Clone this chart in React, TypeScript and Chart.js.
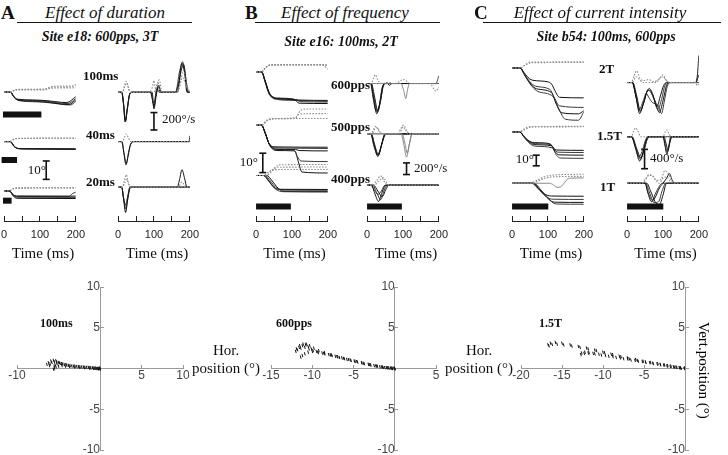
import React, { useEffect, useRef } from "react";
import { Chart, registerables } from "chart.js";
Chart.register(...registerables);

type Pt = [number, number];
type Tr = Pt[];

// ---------------- DATA ----------------
const TIME_MIN = 0;
const TIME_MAX = 200;
const TIME_STEP = 50;
const TIME_LABELS = [0, 100, 200];

// Panel A – position (deg)
const A_POS_100_SOLID: Tr[] = [
  [[0,0],[18,0],[28,-2.5],[38,-3.8],[80,-4.2],[120,-4.6],[160,-5.5],[175,-5.6],[200,-2.4]],
  [[0,0],[18,0],[28,-2.7],[38,-4.0],[80,-4.5],[120,-5.0],[160,-6.0],[178,-6.2],[200,-3.4]],
  [[0,0],[17,0],[28,-2.8],[40,-4.3],[80,-4.8],[120,-5.4],[165,-6.5],[180,-6.7],[200,-4.2]],
  [[0,0],[18,0],[30,-3.2],[42,-4.6],[90,-5.2],[130,-5.8],[170,-6.8],[185,-6.9],[200,-5.0]],
];
const A_POS_100_DOT: Tr[] = [
  [[0,0],[15,0],[30,1.2],[40,1.5],[110,1.5],[125,2.6],[130,2.8],[185,3.0],[200,4.3]],
  [[0,0],[15,0],[30,1.0],[40,1.3],[115,1.3],[130,2.2],[200,2.4]],
  [[0,0],[16,0],[30,1.3],[45,1.6],[120,1.8],[135,3.2],[200,3.4]],
];
const A_POS_40_SOLID: Tr[] = [
  [[0,0],[17,0],[27,-2.5],[38,-3.7],[60,-3.9],[200,-4.1]],
  [[0,0],[18,0],[28,-2.6],[40,-3.9],[70,-4.1],[200,-4.3]],
  [[0,0],[18,0],[30,-2.8],[42,-3.8],[200,-3.9]],
];
const A_POS_40_DOT: Tr[] = [
  [[0,0],[15,0],[28,1.3],[38,1.7],[200,1.8]],
  [[0,0],[15,0],[30,1.4],[40,1.8],[200,1.9]],
];
const A_POS_20_SOLID: Tr[] = [
  [[0,0],[15,0],[25,-2.0],[35,-2.7],[200,-2.8]],
  [[0,0],[15,0],[25,-2.5],[35,-3.4],[200,-3.5]],
  [[0,0],[16,0],[27,-3.0],[37,-4.0],[200,-4.1]],
  [[0,0],[15,0],[25,-2.3],[35,-3.0],[180,-3.1],[190,-1.5],[200,-0.6]],
];
const A_POS_20_DOT: Tr[] = [
  [[0,0],[14,0],[25,1.3],[35,1.8],[200,1.9]],
  [[0,0],[14,0],[25,1.0],[35,1.4],[200,1.5]],
];

// Panel A – velocity (deg/s)
const A_VEL_100_SOLID: Tr[] = [
  [[0,0],[10,0],[15,-150],[20,-400],[25,-250],[32,-30],[40,0],[90,0],[95,-80],[100,-200],[105,-50],[112,80],[118,0],[160,0],[170,150],[178,400],[186,250],[192,0],[200,0]],
  [[0,0],[11,0],[16,-180],[21,-390],[26,-220],[33,-20],[40,0],[92,0],[98,-150],[102,-120],[108,60],[114,0],[160,0],[172,300],[180,420],[188,200],[195,0],[200,0]],
  [[0,0],[10,0],[15,-160],[20,-410],[26,-230],[33,-20],[40,0],[95,0],[100,-230],[106,-60],[113,100],[120,0],[165,0],[175,280],[183,380],[190,150],[196,0],[200,0]],
];
const A_VEL_100_DOT: Tr[] = [
  [[0,0],[12,0],[18,90],[23,150],[28,60],[35,0],[85,0],[95,60],[100,160],[105,40],[112,130],[118,0],[160,0],[172,100],[182,300],[190,120],[200,0]],
  [[0,0],[13,0],[20,100],[25,120],[32,20],[38,0],[100,0],[108,100],[115,170],[122,0],[165,0],[180,200],[190,80],[200,0]],
];
const A_VEL_40_SOLID: Tr[] = [
  [[0,0],[10,0],[16,-150],[22,-320],[28,-200],[35,-40],[45,0],[198,0],[200,80]],
  [[0,0],[11,0],[17,-170],[23,-300],[29,-150],[36,-20],[45,0],[200,0]],
];
const A_VEL_40_DOT: Tr[] = [
  [[0,0],[12,0],[18,60],[23,105],[29,50],[36,0],[200,0]],
];
const A_VEL_20_SOLID: Tr[] = [
  [[0,0],[10,0],[15,-150],[21,-350],[26,-200],[32,-30],[38,0],[200,0]],
  [[0,0],[10,0],[16,-180],[22,-300],[28,-120],[35,0],[200,0]],
  [[0,0],[10,0],[15,-130],[20,-250],[26,-150],[33,0],[165,0],[172,120],[178,240],[185,130],[192,0],[200,0]],
];
const A_VEL_20_DOT: Tr[] = [
  [[0,0],[12,0],[18,100],[23,170],[29,60],[35,0],[200,0]],
  [[0,0],[12,0],[19,60],[24,110],[30,30],[36,0],[168,0],[178,70],[188,0],[200,0]],
];

// Panel B – position (deg)
const B_POS_600_SOLID: Tr[] = [
  [[0,0],[15,0],[25,-5],[35,-11],[45,-13.8],[60,-14.5],[110,-15],[120,-15.3],[200,-15.5]],
  [[0,0],[15,0],[25,-5.5],[35,-11.5],[45,-14],[60,-14.8],[110,-15.2],[125,-16.2],[200,-16.4]],
  [[0,0],[15,0],[26,-5],[36,-11],[47,-13.6],[60,-14.2],[105,-14.8],[120,-17],[200,-17.2]],
  [[0,0],[16,0],[26,-5.5],[37,-11.8],[48,-14.2],[60,-15],[100,-15.5],[200,-16]],
];
const B_POS_600_DOT: Tr[] = [
  [[0,0],[15,0],[25,2],[35,3.5],[45,4],[190,4],[200,3.2]],
  [[0,0],[16,0],[28,2.5],[40,3.8],[200,3.8]],
  [[0,0],[15,0],[26,2.2],[38,3.6],[185,3.8],[200,1.5]],
];
const B_POS_500_SOLID: Tr[] = [
  [[0,0],[15,0],[25,-4],[35,-9.5],[50,-11.8],[200,-12]],
  [[0,0],[15,0],[25,-4.2],[36,-10],[52,-12.3],[100,-12.5],[200,-12.7]],
  [[0,0],[15,0],[26,-4.5],[37,-10.5],[55,-13],[110,-13.2],[120,-13.8],[200,-14]],
  [[0,0],[15,0],[25,-4],[36,-10],[55,-13.2],[105,-13.5],[115,-17],[125,-19.5],[200,-19.8]],
  [[0,0],[15,0],[26,-4.5],[38,-11],[58,-13.8],[108,-14],[118,-20],[128,-25.5],[200,-26]],
];
const B_POS_500_DOT: Tr[] = [
  [[0,0],[15,0],[30,2.5],[50,3.5],[200,3.6]],
  [[0,0],[16,0],[32,2.5],[55,3.5],[108,3.8],[120,6],[130,6.2],[200,6.3]],
  [[0,0],[15,0],[30,2.8],[55,3.6],[110,4],[122,7.5],[135,8.7],[200,8.8]],
];
const B_POS_400_SOLID: Tr[] = [
  [[0,0],[20,0],[35,-3],[50,-6.5],[65,-7.5],[200,-7.6]],
  [[0,0],[25,0],[40,-3],[55,-6.5],[70,-7.8],[200,-8]],
  [[0,0],[30,0],[45,-3],[62,-7],[78,-8.5],[200,-8.6]],
  [[0,0],[22,0],[38,-3.5],[55,-7.5],[75,-8.8],[200,-9]],
];
const B_POS_400_DOT: Tr[] = [
  [[0,0],[22,0],[35,2],[50,3.2],[200,3.3]],
  [[0,0],[28,0],[45,3],[65,5.8],[200,6]],
  [[0,0],[30,0],[45,2.5],[60,4.5],[200,4.6]],
];

// Panel B – velocity (deg/s)
const B_VEL_600_SOLID: Tr[] = [
  [[0,0],[10,0],[18,-250],[27,-520],[35,-350],[43,-60],[50,0],[200,0]],
  [[0,0],[11,0],[19,-230],[29,-490],[37,-320],[45,-50],[52,0],[200,0]],
  [[0,0],[12,0],[20,-200],[30,-470],[38,-280],[46,-20],[52,0],[55,15],[62,-30],[70,0],[200,0]],
  [[0,0],[10,0],[17,-260],[26,-480],[34,-380],[42,-80],[50,0],[192,0],[200,130]],
];
const B_VEL_600_GRAY: Tr[] = [
  [[0,0],[95,0],[102,-120],[108,-260],[113,-100],[118,0],[200,0]],
];
const B_VEL_600_DOT: Tr[] = [
  [[0,0],[12,0],[18,100],[23,150],[30,60],[40,0],[60,20],[75,0],[90,30],[100,70],[110,40],[120,0],[175,0],[186,-90],[192,-130],[200,-60]],
];
const B_VEL_500_SOLID: Tr[] = [
  [[0,0],[10,0],[20,-200],[30,-390],[40,-200],[48,-30],[55,0],[200,0]],
  [[0,0],[11,0],[21,-180],[31,-370],[41,-180],[50,-20],[56,0],[200,0]],
  [[0,0],[12,0],[22,-220],[32,-350],[42,-150],[50,0],[200,0]],
  [[0,0],[10,0],[19,-210],[29,-360],[39,-220],[47,-40],[55,0],[200,0]],
];
const B_VEL_500_GRAY: Tr[] = [
  [[0,0],[95,0],[103,-200],[110,-400],[117,-200],[125,0],[200,0]],
  [[0,0],[98,0],[106,-180],[112,-330],[119,-150],[126,0],[200,0]],
];
const B_VEL_500_DOT: Tr[] = [
  [[0,0],[12,0],[18,80],[24,130],[32,60],[42,0],[85,0],[95,100],[102,150],[110,60],[118,0],[200,0]],
  [[0,0],[14,0],[22,90],[28,110],[36,30],[45,0],[90,0],[100,120],[106,80],[114,0],[200,0]],
];
const B_VEL_400_SOLID: Tr[] = [
  [[0,0],[12,0],[22,-150],[32,-280],[42,-120],[52,0],[200,0]],
  [[0,0],[15,0],[27,-130],[38,-250],[47,-100],[56,0],[200,0]],
  [[0,0],[18,0],[30,-100],[42,-200],[52,-80],[60,0],[200,0]],
  [[0,0],[10,0],[20,-80],[30,-160],[40,-100],[50,0],[200,0]],
];
const B_VEL_400_DOT: Tr[] = [
  [[0,0],[15,0],[28,90],[38,160],[48,60],[58,0],[200,0]],
  [[0,0],[20,0],[32,70],[45,130],[55,40],[62,0],[200,0]],
];

// Panel C – position (deg)
const C_POS_2T_SOLID: Tr[] = [
  [[0,0],[22,0],[35,-5],[48,-10],[58,-11.5],[100,-13],[110,-15],[122,-23],[132,-27.5],[200,-28]],
  [[0,0],[22,0],[35,-6],[50,-13],[65,-17],[105,-20],[118,-28],[132,-35.5],[200,-37]],
  [[0,0],[22,0],[36,-7],[52,-15],[68,-19.5],[110,-23],[122,-33],[138,-42],[185,-43],[200,-40]],
  [[0,0],[22,0],[37,-8],[55,-17],[72,-22],[115,-27],[130,-38],[148,-48],[185,-49],[200,-41]],
];
const C_POS_2T_DOT: Tr[] = [
  [[0,0],[22,0],[35,2.5],[50,5.5],[200,5.8]],
  [[0,0],[22,0],[38,3],[55,5],[200,5.2]],
];
const C_POS_15T_SOLID: Tr[] = [
  [[0,0],[20,0],[35,-5],[50,-9],[62,-10],[105,-11],[115,-15],[125,-17],[200,-17.3]],
  [[0,0],[20,0],[36,-5.5],[52,-10],[65,-11],[108,-12],[118,-16.5],[128,-19],[200,-19.3]],
  [[0,0],[21,0],[37,-6],[54,-11],[67,-12],[110,-13],[120,-18.5],[130,-21.5],[200,-21.8]],
  [[0,0],[22,0],[38,-7],[56,-12.5],[70,-13.5],[112,-15],[124,-22],[135,-24.5],[200,-24.8]],
];
const C_POS_15T_DOT: Tr[] = [
  [[0,0],[20,0],[35,3],[50,5],[200,5.2]],
  [[0,0],[22,0],[38,2.5],[55,4.6],[200,4.8]],
];
const C_POS_1T_SOLID: Tr[] = [
  [[0,0],[55,0],[70,-4],[85,-9],[100,-11.5],[110,-12],[200,-12.2]],
  [[0,0],[58,0],[73,-5],[90,-11],[105,-14.5],[115,-15],[200,-15.2]],
  [[0,0],[60,0],[76,-5.5],[93,-12],[110,-17],[120,-17.8],[200,-18]],
  [[0,0],[62,0],[80,-6],[98,-13],[115,-18.5],[125,-19.5],[200,-19.7]],
];
const C_POS_1T_GRAY: Tr[] = [
  [[0,0],[105,0],[115,-1.5],[125,-3.8],[135,-3.5],[145,0],[155,4],[165,4.8],[200,5]],
];
const C_POS_1T_DOT: Tr[] = [
  [[0,0],[50,0],[70,3],[90,6],[110,7.5],[200,8.5]],
  [[0,0],[55,0],[75,2.5],[95,5],[115,6],[200,6.5]],
];

// Panel C – velocity (deg/s)
const C_VEL_2T_SOLID: Tr[] = [
  [[0,0],[15,0],[25,-300],[35,-640],[45,-450],[55,-200],[62,-120],[72,-250],[83,-500],[92,-300],[102,-60],[110,0],[190,0],[196,150],[200,560]],
  [[0,0],[15,0],[26,-320],[36,-600],[46,-420],[56,-180],[64,-160],[75,-350],[86,-560],[96,-350],[106,-50],[114,0],[200,0]],
  [[0,0],[16,0],[27,-280],[37,-580],[48,-380],[58,-150],[66,-200],[78,-380],[90,-620],[100,-380],[110,-60],[118,0],[192,0],[200,160]],
  [[0,0],[14,0],[24,-260],[34,-560],[44,-400],[54,-220],[60,-300],[72,-420],[85,-460],[96,-640],[104,-380],[112,-80],[120,0],[200,0]],
];
const C_VEL_2T_DOT: Tr[] = [
  [[0,0],[12,0],[20,150],[27,240],[35,100],[45,40],[60,60],[75,20],[90,80],[100,160],[108,60],[118,0],[190,0],[196,-60],[200,-30]],
  [[0,0],[15,0],[25,120],[32,80],[45,0],[80,0],[92,90],[100,120],[110,40],[120,0],[200,0]],
];
const C_VEL_15T_SOLID: Tr[] = [
  [[0,0],[12,0],[24,-250],[35,-500],[44,-330],[52,-100],[58,0],[100,0],[106,-200],[111,-360],[116,-200],[122,0],[200,0]],
  [[0,0],[13,0],[25,-230],[37,-470],[46,-300],[54,-80],[60,0],[101,0],[107,-180],[112,-320],[118,-150],[124,0],[200,0]],
  [[0,0],[14,0],[27,-250],[39,-440],[48,-260],[56,-60],[62,0],[103,0],[109,-150],[114,-280],[120,-100],[126,0],[200,0]],
  [[0,0],[12,0],[23,-200],[33,-420],[42,-300],[50,-100],[57,0],[200,0]],
];
const C_VEL_15T_DOT: Tr[] = [
  [[0,0],[12,0],[18,120],[24,180],[30,120],[38,0],[100,0],[106,100],[111,140],[117,60],[124,0],[200,0]],
];
const C_VEL_1T_SOLID: Tr[] = [
  [[0,0],[50,0],[58,-200],[68,-380],[78,-300],[90,-100],[100,0],[110,100],[118,200],[126,60],[132,0],[200,0]],
  [[0,0],[52,0],[62,-180],[75,-400],[88,-380],[98,-150],[108,0],[200,0]],
  [[0,0],[55,0],[65,-150],[78,-380],[90,-440],[100,-250],[110,0],[200,0]],
  [[0,0],[50,0],[60,-220],[70,-350],[80,-200],[90,-60],[98,0],[200,0]],
];
const C_VEL_1T_DOT: Tr[] = [
  [[0,0],[40,0],[52,100],[62,180],[72,140],[82,60],[95,80],[105,260],[115,200],[125,40],[135,0],[200,0]],
  [[0,0],[45,0],[58,150],[70,160],[80,60],[90,0],[100,100],[110,130],[120,50],[130,0],[200,0]],
];

// Stimulus durations (ms) per condition
const A_STIM: [number, number][] = [[-3, 104], [-7, 36], [-3, 21]];
const B_STIM: [number, number] = [0, 97];
const C_STIM: [number, number] = [0, 101];

// Bottom: 2-D trajectories (hor, vert position in deg)
const A_XY: Tr[] = [
  [[0,0],[-0.2,0.02],[-0.5,0.05],[-0.9,0.1],[-1.4,0.15],[-2,0.2],[-2.6,0.25],[-3.2,0.3],[-3.8,0.4],[-4.3,0.5],[-4.8,0.65],[-5.2,0.8],[-5.5,0.85],[-5.8,0.75],[-6.0,0.55],[-6.1,0.35]],
  [[0,-0.05],[-0.3,0],[-0.7,0.05],[-1.2,0.1],[-1.8,0.15],[-2.4,0.2],[-3,0.3],[-3.6,0.35],[-4.1,0.45],[-4.6,0.6],[-5,0.75],[-5.3,0.95],[-5.6,1.0],[-5.9,0.9],[-6.2,0.7],[-6.4,0.5]],
  [[-0.1,0],[-0.4,-0.02],[-0.8,0],[-1.3,0.05],[-1.9,0.1],[-2.5,0.15],[-3.1,0.2],[-3.7,0.25],[-4.2,0.3],[-4.6,0.35],[-5,0.3],[-5.3,0.2],[-5.5,0.05],[-5.6,-0.1]],
  [[0,0.05],[-0.2,-0.05],[-0.6,0.02],[-1.1,0.08],[-1.6,0.12],[-2.2,0.18],[-2.8,0.22],[-3.4,0.3],[-4,0.42],[-4.5,0.55],[-4.9,0.7],[-5.2,0.6],[-5.4,0.45],[-5.5,0.3]],
];
const B_XY: Tr[] = [
  [[0,0],[-0.3,0],[-0.7,0.05],[-1.2,0.1],[-1.8,0.2],[-2.5,0.35],[-3.2,0.5],[-4,0.7],[-4.8,0.9],[-5.6,1.1],[-6.4,1.3],[-7.2,1.5],[-8,1.7],[-8.8,1.9],[-9.5,2.1],[-10.1,2.4],[-10.5,2.7],[-10.8,2.9],[-11.2,2.8],[-11.6,2.6],[-11.9,2.4]],
  [[0,0.05],[-0.4,0.03],[-0.9,0.1],[-1.5,0.2],[-2.2,0.3],[-3,0.45],[-3.8,0.65],[-4.6,0.85],[-5.4,1.05],[-6.2,1.25],[-7,1.45],[-7.8,1.65],[-8.6,1.85],[-9.3,2.0],[-9.9,2.2],[-10.4,2.4],[-10.9,2.6],[-11.4,2.5],[-11.8,2.3],[-12,2.1]],
  [[-0.1,0],[-0.5,0.05],[-1,0.1],[-1.6,0.2],[-2.3,0.3],[-3.1,0.5],[-4,0.7],[-4.9,0.9],[-5.8,1.1],[-6.7,1.35],[-7.6,1.6],[-8.5,1.8],[-9.3,1.95],[-10,2.1],[-10.5,2.0],[-10.9,1.8],[-11.2,1.6],[-11.4,1.4]],
  [[0,-0.05],[-0.3,0.05],[-0.8,0.1],[-1.4,0.15],[-2.1,0.3],[-2.9,0.45],[-3.7,0.6],[-4.5,0.8],[-5.3,1.0],[-6.1,1.2],[-6.9,1.45],[-7.7,1.7],[-8.5,1.95],[-9.2,2.2],[-9.8,2.5],[-10.3,2.8],[-10.7,3.0],[-11.1,3.0],[-11.5,2.8]],
];
const C_XY: Tr[] = [
  [[0,0],[-0.5,0.05],[-1,0.15],[-1.7,0.3],[-2.5,0.45],[-3.3,0.6],[-4.2,0.75],[-5.1,0.9],[-6,1.1],[-7,1.3],[-8,1.5],[-9,1.75],[-10,2.0],[-11,2.25],[-12,2.5],[-13,2.7],[-14,2.9],[-15,3.1],[-15.8,3.2],[-16.4,3.1],[-16.7,2.9]],
  [[0,0.05],[-0.6,0.1],[-1.3,0.2],[-2.1,0.35],[-3,0.5],[-3.9,0.65],[-4.8,0.8],[-5.8,1.0],[-6.8,1.2],[-7.8,1.45],[-8.8,1.7],[-9.8,1.95],[-10.8,2.2],[-11.8,2.4],[-12.8,2.6],[-13.8,2.75],[-14.8,2.9],[-15.6,3.0],[-16.2,2.95],[-16.6,2.8]],
  [[0,0],[-0.5,0.05],[-1.1,0.15],[-1.8,0.25],[-2.6,0.4],[-3.4,0.55],[-4.3,0.7],[-5.2,0.85],[-6.1,1.0],[-7,1.15],[-7.9,1.3],[-8.8,1.45],[-9.7,1.6],[-10.5,1.75],[-11.2,1.85],[-11.8,1.9],[-12.3,1.85],[-12.7,1.7]],
  [[-0.1,0],[-0.7,0.1],[-1.4,0.2],[-2.2,0.3],[-3,0.45],[-3.9,0.6],[-4.8,0.75],[-5.7,0.9],[-6.6,1.05],[-7.5,1.2],[-8.4,1.35],[-9.3,1.5],[-10.2,1.65],[-11,1.8],[-11.7,1.95],[-12.2,2.0],[-12.6,1.9]],
];
const XY_Y_TICKS = [-10, -5, 5, 10];
const A_X_LABELS = [-10, 5, 10];
const B_X_LABELS = [-15, -10, -5, 5];
const C_X_LABELS = [-20, -15, -10, -5];

// ---------------- LAYOUT ----------------
const SERIF = '"Liberation Serif", "Times New Roman", serif';
const SANS = '"Liberation Sans", Arial, sans-serif';
const AXIS_Y = 221;
const TOP_Y = 45;
const PADX = 14;
const AXIS_H = 30;
const AX_W = 80;

interface Cond { base: number; solid: Tr[]; dotted: Tr[]; gray?: Tr[] }
interface TraceSpec {
  x0: number; k: number; conds: Cond[];
  bars: { t0: number; t1: number; y: number }[];
  sbar: { x: number; y0: number; y1: number };
}

const SPECS: TraceSpec[] = [
  { x0: 3, k: 1.9, conds: [
      { base: 88, solid: A_POS_100_SOLID, dotted: A_POS_100_DOT },
      { base: 139, solid: A_POS_40_SOLID, dotted: A_POS_40_DOT },
      { base: 190, solid: A_POS_20_SOLID, dotted: A_POS_20_DOT } ],
    bars: [{ t0: A_STIM[0][0], t1: A_STIM[0][1], y: 111 }, { t0: A_STIM[1][0], t1: A_STIM[1][1], y: 158 }, { t0: A_STIM[2][0], t1: A_STIM[2][1], y: 200 }],
    sbar: { x: 50, y0: 159, y1: 178 } },
  { x0: 117, k: 0.075, conds: [
      { base: 88, solid: A_VEL_100_SOLID, dotted: A_VEL_100_DOT },
      { base: 139, solid: A_VEL_40_SOLID, dotted: A_VEL_40_DOT },
      { base: 186, solid: A_VEL_20_SOLID, dotted: A_VEL_20_DOT } ],
    bars: [], sbar: { x: 157, y0: 109, y1: 127 } },
  { x0: 254.5, k: 1.9, conds: [
      { base: 67, solid: B_POS_600_SOLID, dotted: B_POS_600_DOT },
      { base: 122, solid: B_POS_500_SOLID, dotted: B_POS_500_DOT },
      { base: 174, solid: B_POS_400_SOLID, dotted: B_POS_400_DOT } ],
    bars: [{ t0: B_STIM[0], t1: B_STIM[1], y: 206 }], sbar: { x: 262, y0: 151, y1: 171 } },
  { x0: 366, k: 0.06, conds: [
      { base: 79, solid: B_VEL_600_SOLID, dotted: B_VEL_600_DOT, gray: B_VEL_600_GRAY },
      { base: 131, solid: B_VEL_500_SOLID, dotted: B_VEL_500_DOT, gray: B_VEL_500_GRAY },
      { base: 184, solid: B_VEL_400_SOLID, dotted: B_VEL_400_DOT } ],
    bars: [{ t0: B_STIM[0], t1: B_STIM[1], y: 206 }], sbar: { x: 410, y0: 161, y1: 173 } },
  { x0: 511, k: 1.1, conds: [
      { base: 63, solid: C_POS_2T_SOLID, dotted: C_POS_2T_DOT },
      { base: 129, solid: C_POS_15T_SOLID, dotted: C_POS_15T_DOT },
      { base: 182, solid: C_POS_1T_SOLID, dotted: C_POS_1T_DOT, gray: C_POS_1T_GRAY } ],
    bars: [{ t0: C_STIM[0], t1: C_STIM[1], y: 206 }], sbar: { x: 538, y0: 153, y1: 164 } },
  { x0: 625.5, k: 0.05, conds: [
      { base: 78, solid: C_VEL_2T_SOLID, dotted: C_VEL_2T_DOT },
      { base: 134, solid: C_VEL_15T_SOLID, dotted: C_VEL_15T_DOT },
      { base: 182, solid: C_VEL_1T_SOLID, dotted: C_VEL_1T_DOT } ],
    bars: [{ t0: C_STIM[0], t1: C_STIM[1], y: 206 }], sbar: { x: 645, y0: 147, y1: 167 } },
];

function TraceChart({ spec }: { spec: TraceSpec }) {
  const ref = useRef<HTMLCanvasElement>(null);
  useEffect(() => {
    const H = AXIS_Y - TOP_Y;
    const pxToT = (px: number) => ((px - spec.x0) / AX_W) * (TIME_MAX - TIME_MIN) + TIME_MIN;
    const datasets: any[] = [];
    const lineDefaults = { pointRadius: 0, cubicInterpolationMode: "monotone", fill: false };
    spec.conds.forEach((c) => {
      const b = AXIS_Y - c.base;
      const map = (tr: Tr) => tr.map(([t, v]) => ({ x: t, y: b + v * spec.k }));
      c.dotted.forEach((tr) => datasets.push({ ...lineDefaults, data: map(tr), borderColor: "#8c8c8c", borderWidth: 1.1, borderDash: [1.5, 1.5] }));
      (c.gray || []).forEach((tr) => datasets.push({ ...lineDefaults, data: map(tr), borderColor: "#7a7a7a", borderWidth: 0.9 }));
      c.solid.forEach((tr, i) => datasets.push({ ...lineDefaults, data: map(tr), borderColor: i % 2 ? "#3a3a3a" : "#111", borderWidth: 1 }));
    });
    spec.bars.forEach((bar) => datasets.push({
      data: [{ x: bar.t0, y: AXIS_Y - bar.y }, { x: bar.t1, y: AXIS_Y - bar.y }],
      borderColor: "#111", borderWidth: 6, borderCapStyle: "butt", pointRadius: 0, clip: false,
    }));
    const st = pxToT(spec.sbar.x);
    datasets.push({
      data: [{ x: st, y: AXIS_Y - spec.sbar.y0 }, { x: st, y: AXIS_Y - spec.sbar.y1 }],
      borderColor: "#111", borderWidth: 1.6, pointStyle: "line", pointRadius: 3.5,
      pointBorderWidth: 1.6, pointBorderColor: "#111", clip: false,
    });
    const chart = new Chart(ref.current!, {
      type: "line",
      data: { datasets },
      options: {
        animation: false, responsive: false, maintainAspectRatio: false,
        events: [],
        layout: { padding: { left: PADX, right: PADX, top: 0, bottom: 0 } },
        plugins: { legend: { display: false }, tooltip: { enabled: false } },
        scales: {
          x: {
            type: "linear", min: TIME_MIN, max: TIME_MAX,
            afterFit: (s: any) => { s.height = AXIS_H; },
            ticks: {
              stepSize: TIME_STEP, autoSkip: false, maxRotation: 0, padding: 12,
              color: "#222", font: { family: SANS, size: 11 },
              callback: (v: any) => (TIME_LABELS.includes(Number(v)) ? String(v) : ""),
            },
            grid: { display: true, drawOnChartArea: false, drawTicks: true, tickLength: -5, color: "#222", lineWidth: 1 },
            border: { display: true, color: "#222", width: 1 },
          },
          y: { type: "linear", display: false, min: 0, max: H },
        },
      } as any,
    });
    return () => chart.destroy();
  }, [spec]);
  return (
    <canvas ref={ref} width={AX_W + 2 * PADX} height={AXIS_Y - TOP_Y + AXIS_H}
      style={{ position: "absolute", left: spec.x0 - PADX, top: TOP_Y, width: AX_W + 2 * PADX, height: AXIS_Y - TOP_Y + AXIS_H }} />
  );
}

interface XYSpec { left: number; right: number; xmin: number; xmax: number; data: Tr[]; xLabels: number[] }
const XY_TOP = 287;
const XY_BOTTOM = 450;
const XY_PAD = 24;
const XY_SPECS: XYSpec[] = [
  { left: 17, right: 183, xmin: -10, xmax: 10, data: A_XY, xLabels: A_X_LABELS },
  { left: 271, right: 436, xmin: -15, xmax: 5, data: B_XY, xLabels: B_X_LABELS },
  { left: 521, right: 685, xmin: -20, xmax: 0, data: C_XY, xLabels: C_X_LABELS },
];

function XYChart({ spec }: { spec: XYSpec }) {
  const ref = useRef<HTMLCanvasElement>(null);
  const W = spec.right - spec.left + 2 * XY_PAD;
  const H = XY_BOTTOM - XY_TOP + 2 * XY_PAD;
  useEffect(() => {
    const datasets = spec.data.map((tr) => ({
      data: tr.map(([x, y]) => ({ x, y })),
      showLine: false, pointStyle: "line", pointRadius: 1.7, pointRotation: 75,
      pointBorderColor: "#111", pointBorderWidth: 1, pointBackgroundColor: "#111",
    }));
    const tickFont = { family: SANS, size: 12 };
    const chart = new Chart(ref.current!, {
      type: "scatter",
      data: { datasets },
      options: {
        animation: false, responsive: false, maintainAspectRatio: false, events: [],
        layout: { padding: XY_PAD },
        plugins: { legend: { display: false }, tooltip: { enabled: false } },
        scales: {
          x: {
            type: "linear", min: spec.xmin, max: spec.xmax, position: { y: 0 },
            ticks: { stepSize: 5, autoSkip: false, maxRotation: 0, padding: 4, color: "#444", font: tickFont,
              callback: (v: any) => (spec.xLabels.includes(Number(v)) ? String(v) : "") },
            grid: { display: true, drawOnChartArea: false, tickLength: -4, color: "#9a9a9a" },
            border: { display: true, color: "#9a9a9a" },
          },
          y: {
            type: "linear", min: -10, max: 10, position: { x: 0 },
            ticks: { stepSize: 5, autoSkip: false, padding: 14, color: "#444", font: tickFont,
              callback: (v: any) => (XY_Y_TICKS.includes(Number(v)) ? String(v) : "") },
            grid: { display: true, drawOnChartArea: false, tickLength: -4, color: "#9a9a9a" },
            border: { display: true, color: "#9a9a9a" },
          },
        },
      } as any,
    });
    return () => chart.destroy();
  }, [spec]);
  return (
    <canvas ref={ref} width={W} height={H}
      style={{ position: "absolute", left: spec.left - XY_PAD, top: XY_TOP - XY_PAD, width: W, height: H }} />
  );
}

function T({ x, y, children, size = 13, bold = false, italic = false, align = "left", font = SERIF }: any) {
  const tx = align === "center" ? "-50%" : align === "right" ? "-100%" : "0";
  return (
    <div style={{
      position: "absolute", left: x, top: y, transform: `translate(${tx}, -50%)`, zIndex: 2,
      fontFamily: font, fontSize: size, fontWeight: bold ? 700 : 400, fontStyle: italic ? "italic" : "normal",
      whiteSpace: "nowrap", lineHeight: 1, color: "#111",
    }}>{children}</div>
  );
}

function HLine({ x1, x2, y }: any) {
  return <div style={{ position: "absolute", left: x1, top: y, width: x2 - x1, height: 1.3, background: "#111" }} />;
}

const HOR_STYLE: any = {
  position: "absolute", textAlign: "center", fontFamily: SERIF, fontSize: 15, lineHeight: "18px",
  color: "#111", whiteSpace: "nowrap", transform: "translateX(-50%)", zIndex: 2,
};

export default function App() {
  return (
    <div style={{ position: "absolute", left: 0, top: 0, width: 728, height: 455, background: "#fff", overflow: "hidden" }}>
      {SPECS.map((s, i) => <TraceChart key={i} spec={s} />)}
      {XY_SPECS.map((s, i) => <XYChart key={"xy" + i} spec={s} />)}

      <T x={1} y={12} size={19} bold>A</T>
      <T x={105} y={12} size={17} italic align="center">Effect of duration</T>
      <HLine x1={17} x2={192} y={22} />
      <T x={100} y={37} size={14} bold italic align="center">Site e18: 600pps, 3T</T>

      <T x={245} y={12} size={19} bold>B</T>
      <T x={345} y={12} size={17} italic align="center">Effect of frequency</T>
      <HLine x1={255} x2={440} y={22} />
      <T x={341} y={42} size={14} bold italic align="center">Site e16: 100ms, 2T</T>

      <T x={474} y={12} size={19} bold>C</T>
      <T x={600} y={12} size={17} italic align="center">Effect of current intensity</T>
      <HLine x1={483} x2={721} y={22} />
      <T x={606} y={37} size={14} bold italic align="center">Site b54: 100ms, 600pps</T>

      <T x={83} y={75} bold>100ms</T>
      <T x={86} y={134} bold>40ms</T>
      <T x={86} y={181} bold>20ms</T>
      <T x={331} y={84} bold>600pps</T>
      <T x={331} y={126} bold>500pps</T>
      <T x={331} y={178} bold>400pps</T>
      <T x={599} y={68} bold>2T</T>
      <T x={597} y={135} bold>1.5T</T>
      <T x={600} y={186} bold>1T</T>

      <T x={46} y={169} align="right">10°</T>
      <T x={162} y={118}>200°/s</T>
      <T x={258} y={161} align="right">10°</T>
      <T x={414} y={167}>200°/s</T>
      <T x={534} y={158} align="right">10°</T>
      <T x={650} y={157}>400°/s</T>

      {SPECS.map((s, i) => <T key={"tl" + i} x={s.x0 + AX_W / 2} y={253} size={15} align="center">Time (ms)</T>)}

      <T x={40} y={323} size={12} bold>100ms</T>
      <T x={276} y={323} size={12} bold>600pps</T>
      <T x={539} y={323} size={12} bold>1.5T</T>

      <div style={{ ...HOR_STYLE, left: 226, top: 341 }}>Hor.<br />position (°)</div>
      <div style={{ ...HOR_STYLE, left: 479, top: 341 }}>Hor.<br />position (°)</div>
      <div style={{ position: "absolute", left: 696, top: 322, writingMode: "vertical-rl", fontFamily: SERIF, fontSize: 15, whiteSpace: "nowrap", color: "#000", zIndex: 3, lineHeight: "16px" }}>
        Vert.position (°)
      </div>
    </div>
  );
}
